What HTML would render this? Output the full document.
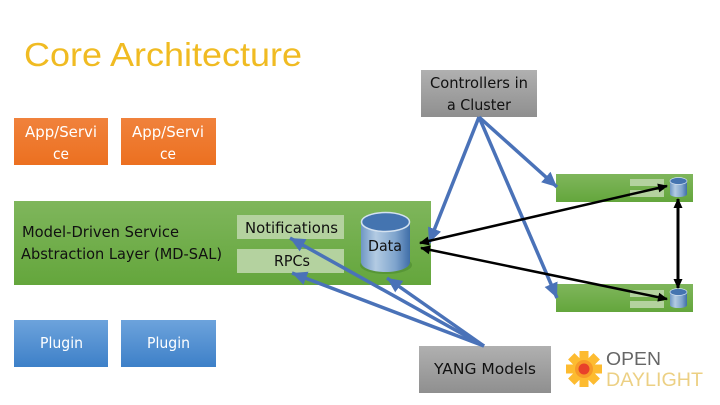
<!DOCTYPE html>
<html><head><meta charset="utf-8"><style>
html,body{margin:0;padding:0;background:#fff;width:720px;height:405px;overflow:hidden}
svg{display:block}
text{font-family:"DejaVu Sans",sans-serif;font-size:15.5px}
text.l{font-family:"Liberation Sans",sans-serif}
</style></head><body>
<svg width="720" height="405" viewBox="0 0 720 405" xmlns="http://www.w3.org/2000/svg">
<defs>
<linearGradient id="or" x1="0" y1="0" x2="0" y2="1"><stop offset="0" stop-color="#f0823c"/><stop offset="1" stop-color="#ec7020"/></linearGradient>
<linearGradient id="bl" x1="0" y1="0" x2="0" y2="1"><stop offset="0" stop-color="#6da3dc"/><stop offset="1" stop-color="#3d80c8"/></linearGradient>
<linearGradient id="gr" x1="0" y1="0" x2="0" y2="1"><stop offset="0" stop-color="#7fb65c"/><stop offset="1" stop-color="#64a63c"/></linearGradient>
<linearGradient id="gy" x1="0" y1="0" x2="0" y2="1"><stop offset="0" stop-color="#b0b0b0"/><stop offset="1" stop-color="#8f8f8f"/></linearGradient>
<linearGradient id="cy" x1="0" y1="0" x2="1" y2="0"><stop offset="0" stop-color="#6f97c4"/><stop offset=".3" stop-color="#b3cbe3"/><stop offset=".7" stop-color="#7fa4cd"/><stop offset="1" stop-color="#3f6ea8"/></linearGradient>
<marker id="bh" markerUnits="userSpaceOnUse" markerWidth="18" markerHeight="16" refX="15" refY="8" orient="auto"><path d="M0,1L15,8L0,15z" fill="#4a72b8"/></marker>
<marker id="kh" markerUnits="userSpaceOnUse" markerWidth="11" markerHeight="11" refX="9" refY="5.5" orient="auto-start-reverse"><path d="M0,1L10,5.5L0,10z" fill="#000"/></marker>
</defs>

<text class="l" x="24" y="66" style="font-size:33.5px" fill="#f0bb22" textLength="278" lengthAdjust="spacingAndGlyphs">Core Architecture</text>

<rect x="14" y="118" width="94" height="47" fill="url(#or)"/>
<rect x="121" y="118" width="95" height="47" fill="url(#or)"/>
<text x="25" y="137" fill="#fff" textLength="72" lengthAdjust="spacingAndGlyphs">App/Servi</text>
<text x="53" y="159" fill="#fff" textLength="16" lengthAdjust="spacingAndGlyphs">ce</text>
<text x="132" y="137" fill="#fff" textLength="72" lengthAdjust="spacingAndGlyphs">App/Servi</text>
<text x="160" y="159" fill="#fff" textLength="16" lengthAdjust="spacingAndGlyphs">ce</text>

<rect x="14" y="201" width="417" height="84" fill="url(#gr)"/>
<text x="22" y="237" fill="#111" textLength="157" lengthAdjust="spacingAndGlyphs">Model-Driven Service</text>
<text x="21" y="259" fill="#111" textLength="201" lengthAdjust="spacingAndGlyphs">Abstraction Layer (MD-SAL)</text>
<rect x="237" y="215" width="107" height="24" fill="#b4d29f"/>
<rect x="237" y="249" width="107" height="24" fill="#b4d29f"/>
<text x="245" y="233" fill="#111" textLength="93" lengthAdjust="spacingAndGlyphs">Notifications</text>
<text x="274" y="266" fill="#111" textLength="36" lengthAdjust="spacingAndGlyphs">RPCs</text>

<!-- big cylinder -->
<ellipse cx="386" cy="265" rx="26" ry="9" fill="#4d8a2e" opacity=".6"/>
<path d="M361,222V262C361,268 372,272 385.500,272C399,272 410,268 410,262V222z" fill="url(#cy)"/>
<ellipse cx="385.500" cy="222" rx="24" ry="9.500" fill="#4474b0" stroke="#d4e2f0" stroke-width="1.500"/>
<text x="368" y="251" fill="#111" textLength="34" lengthAdjust="spacingAndGlyphs">Data</text>

<rect x="14" y="320" width="94" height="47" fill="url(#bl)"/>
<rect x="121" y="320" width="95" height="47" fill="url(#bl)"/>
<text x="40" y="348" fill="#fff" textLength="43" lengthAdjust="spacingAndGlyphs">Plugin</text>
<text x="147" y="348" fill="#fff" textLength="43" lengthAdjust="spacingAndGlyphs">Plugin</text>

<rect x="421" y="70" width="116" height="47" fill="url(#gy)"/>
<text x="430" y="88" fill="#111" textLength="98" lengthAdjust="spacingAndGlyphs">Controllers in</text>
<text x="447" y="110" fill="#111" textLength="64" lengthAdjust="spacingAndGlyphs">a Cluster</text>

<rect x="419" y="346" width="132" height="47" fill="url(#gy)"/>
<text x="434" y="374" fill="#111" textLength="102" lengthAdjust="spacingAndGlyphs">YANG Models</text>

<!-- small boxes -->
<rect x="556" y="174" width="137" height="28" fill="url(#gr)"/>
<rect x="630" y="179" width="34" height="7" fill="#b4d29f"/>
<rect x="630" y="190" width="34" height="7" fill="#b4d29f"/>
<path d="M670,181V194C670,198 687,198 687,194V181z" fill="url(#cy)"/>
<ellipse cx="678.500" cy="181" rx="8.500" ry="3.500" fill="#4474b0" stroke="#d4e2f0" stroke-width=".7"/>

<rect x="556" y="284" width="137" height="28" fill="url(#gr)"/>
<rect x="630" y="290" width="34" height="7" fill="#b4d29f"/>
<rect x="630" y="301" width="34" height="7" fill="#b4d29f"/>
<path d="M670,292V305C670,309 687,309 687,305V292z" fill="url(#cy)"/>
<ellipse cx="678.500" cy="292" rx="8.500" ry="3.500" fill="#4474b0" stroke="#d4e2f0" stroke-width=".7"/>

<!-- blue connectors -->
<g stroke="#4a72b8" stroke-width="3.500" fill="none">
<line x1="479" y1="117" x2="429" y2="243" marker-end="url(#bh)"/>
<line x1="479" y1="117" x2="557" y2="187" marker-end="url(#bh)"/>
<line x1="479" y1="117" x2="557" y2="298" marker-end="url(#bh)"/>
<line x1="484" y1="346" x2="290" y2="238" marker-end="url(#bh)"/>
<line x1="484" y1="346" x2="292" y2="273" marker-end="url(#bh)"/>
<line x1="484" y1="346" x2="387" y2="278" marker-end="url(#bh)"/>
</g>

<!-- black connectors -->
<g stroke="#000" stroke-width="2.500" fill="none">
<line x1="420" y1="243" x2="667" y2="186" marker-start="url(#kh)" marker-end="url(#kh)"/>
<line x1="421" y1="248" x2="667" y2="299" marker-start="url(#kh)" marker-end="url(#kh)"/>
<line x1="678" y1="199" x2="678" y2="288" stroke-width="3" marker-start="url(#kh)" marker-end="url(#kh)"/>
</g>

<!-- logo -->
<g transform="translate(584 369)">
<g fill="#fdbb30">
<rect x="-4.500" y="-18" width="9" height="36"/>
<rect x="-4.500" y="-18" width="9" height="36" transform="rotate(45)"/>
<rect x="-4.500" y="-18" width="9" height="36" transform="rotate(90)"/>
<rect x="-4.500" y="-18" width="9" height="36" transform="rotate(135)"/>
</g>
<circle r="9" fill="#f79a28"/>
<circle r="5.500" fill="#e8402a"/>
</g>
<text class="l" x="606" y="365" style="font-size:18px" fill="#666" textLength="55" lengthAdjust="spacingAndGlyphs">OPEN</text>
<text class="l" x="606" y="386" style="font-size:19px" fill="#ecd084" textLength="97" lengthAdjust="spacingAndGlyphs">DAYLIGHT</text>
</svg>
</body></html>
